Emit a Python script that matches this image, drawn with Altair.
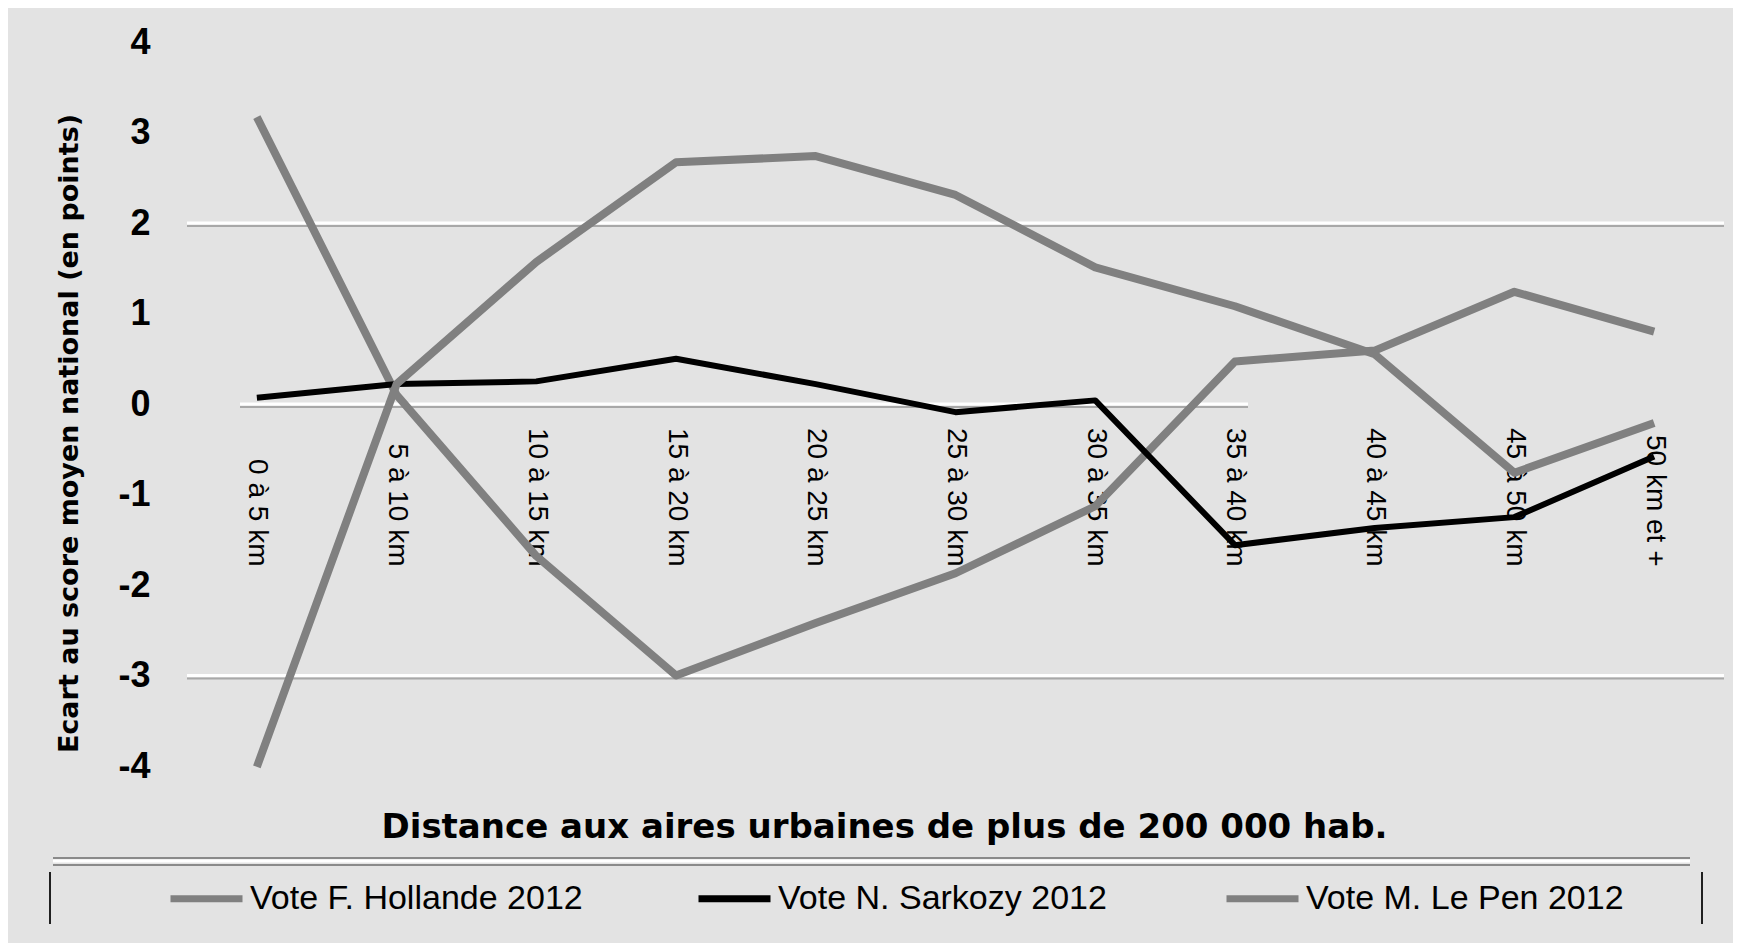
import altair as alt
import pandas as pd

categories = ["0 à 5 km", "5 à 10 km", "10 à 15 km", "15 à 20 km", "20 à 25 km",
              "25 à 30 km", "30 à 35 km", "35 à 40 km", "40 à 45 km", "45 à 50 km",
              "50 km et +"]
hollande = [3.17, 0.10, -1.68, -3.00, -2.42, -1.87, -1.13, 0.47, 0.59, 1.24, 0.80]
sarkozy = [0.07, 0.22, 0.25, 0.50, 0.22, -0.09, 0.04, -1.56, -1.37, -1.25, -0.58]
lepen = [-4.01, 0.22, 1.57, 2.67, 2.74, 2.31, 1.51, 1.08, 0.55, -0.76, -0.21]

series_names = ["Vote F. Hollande 2012", "Vote N. Sarkozy 2012", "Vote M. Le Pen 2012"]
series_values = [hollande, sarkozy, lepen]
series_colors = ["#808080", "#000000", "#808080"]
series_widths = [8, 6, 8]

y_ticks = [4, 3, 2, 1, 0, -1, -2, -3, -4]
grid_full = [2, -3]
grid_partial = [0]

x_title = "Distance aux aires urbaines de plus de 200 000 hab."
y_title = "Ecart au score moyen national (en points)"

rows = []
for name, vals in zip(series_names, series_values):
    for c, v in zip(categories, vals):
        rows.append({"cat": c, "value": v, "series": name})
df = pd.DataFrame(rows)

W, H = 1537, 724

x_enc = alt.X(
    "cat:N", sort=categories,
    scale=alt.Scale(type="point", padding=0.5),
    axis=alt.Axis(
        orient="bottom", offset=-362, domain=False, ticks=False, grid=False,
        labelAngle=90, labelAlign="right", labelBaseline="middle",
        labelPadding=162, labelFont="Liberation Sans", labelFontSize=28,
        labelColor="#000000", labelOverlap=False, labelLimit=400,
        title=x_title, titleFont="DejaVu Sans", titleFontSize=34,
        titleFontWeight="bold", titleColor="#000000",
        titleX=697, titleY=423, titleAlign="center", titleBaseline="middle",
    ),
)
y_scale = alt.Scale(domain=[-4, 4], nice=False)
y_enc = alt.Y(
    "value:Q", scale=y_scale,
    axis=alt.Axis(
        values=y_ticks, domain=False, ticks=False, grid=False,
        labelExpr="datum.value < 0 ? '-' + abs(datum.value) : '' + datum.value",
        labelFont="Liberation Sans", labelFontWeight="bold", labelFontSize=36,
        labelPadding=37, labelColor="#000000",
        title=y_title, titleFont="DejaVu Sans", titleFontWeight="bold",
        titleFontSize=27, titleColor="#000000", titleX=-118, titleY=391,
        titleAngle=270, titleAlign="center", titleBaseline="middle",
    ),
)
color_enc = alt.Color(
    "series:N",
    scale=alt.Scale(domain=series_names, range=series_colors),
    legend=alt.Legend(
        orient="none", legendX=-20, legendY=817, direction="horizontal",
        columns=3, gridAlign="all", columnPadding=101, symbolType="stroke",
        symbolSize=5184, symbolStrokeWidth=7, labelFont="Liberation Sans",
        labelFontSize=34, labelColor="#000000", title=None, padding=0,
        labelLimit=500, labelOffset=4,
    ),
)

# gridlines
grid_df = pd.DataFrame({"value": grid_full})
grid_white = alt.Chart(grid_df).mark_rule(color="#ffffff", strokeWidth=3).encode(
    y=alt.Y("value:Q", scale=y_scale))
grid_shadow = alt.Chart(grid_df).mark_rule(color="#a8a8a8", strokeWidth=2, yOffset=3).encode(
    y=alt.Y("value:Q", scale=y_scale))
zero_df = pd.DataFrame({"value": grid_partial})
zero_white = alt.Chart(zero_df).mark_rule(color="#ffffff", strokeWidth=3).encode(
    y=alt.Y("value:Q", scale=y_scale), x=alt.value(53), x2=alt.value(1061))
zero_shadow = alt.Chart(zero_df).mark_rule(color="#a8a8a8", strokeWidth=2, yOffset=3).encode(
    y=alt.Y("value:Q", scale=y_scale), x=alt.value(53), x2=alt.value(1061))

# series lines (drawn in series order)
line_layers = []
for name, sw in zip(series_names, series_widths):
    line_layers.append(
        alt.Chart(df).transform_filter(alt.datum.series == name)
        .mark_line(strokeJoin="round", strokeWidth=sw)
        .encode(x=x_enc, y=y_enc, color=color_enc)
    )

# legend frame
one = pd.DataFrame({"k": [0]})
frame_top1 = alt.Chart(one).mark_rule(color="#8a8a8a", strokeWidth=2).encode(
    x=alt.value(-134), x2=alt.value(1503), y=alt.value(816))
frame_top1w = alt.Chart(one).mark_rule(color="#ffffff", strokeWidth=3).encode(
    x=alt.value(-134), x2=alt.value(1503), y=alt.value(819))
frame_top2 = alt.Chart(one).mark_rule(color="#8a8a8a", strokeWidth=2).encode(
    x=alt.value(-134), x2=alt.value(1503), y=alt.value(823))
frame_left = alt.Chart(one).mark_rule(color="#202020", strokeWidth=2).encode(
    x=alt.value(-137), y=alt.value(830), y2=alt.value(882))
frame_right = alt.Chart(one).mark_rule(color="#202020", strokeWidth=2).encode(
    x=alt.value(1515), y=alt.value(830), y2=alt.value(882))

chart = alt.layer(
    grid_shadow, grid_white, zero_shadow, zero_white,
    *line_layers,
    frame_top1, frame_top1w, frame_top2, frame_left, frame_right,
).properties(
    width=W, height=H,
    autosize=alt.AutoSizeParams(type="none"),
    padding={"left": 179, "top": 34, "right": 9, "bottom": 177},
).configure(
    background="#e3e3e3",
).configure_view(
    stroke=None,
)

chart.save("out.html", embed_options={"renderer": "svg", "actions": False})
